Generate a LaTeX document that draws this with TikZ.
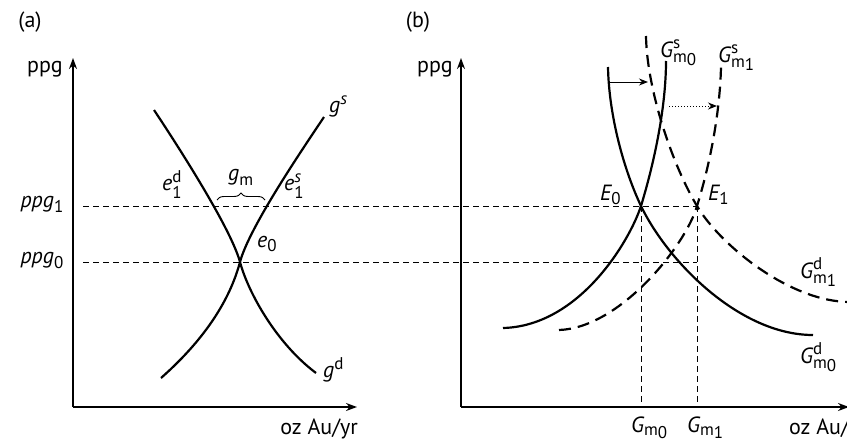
\documentclass[tikz,border=0pt]{standalone}
\usepackage{amsmath}
\usepackage{fontspec}
\setmainfont{PT Sans}
\DeclareMathSizes{22}{22}{17}{15}
\usetikzlibrary{arrows.meta,decorations.pathreplacing}
\newcommand{\sm}[1]{\text{m\raisebox{-0.35ex}{#1}}}
\begin{document}
\begin{tikzpicture}[x=1pt,y=-1pt,
  axis/.style={line width=1.6pt,-{Stealth[length=11pt,width=8pt]}},
  curve/.style={line width=2.2pt},
  dcurve/.style={line width=2.2pt,dash pattern=on 12pt off 7pt},
  guide/.style={line width=0.9pt,dash pattern=on 6pt off 4pt},
  shift arrow/.style={line width=1pt,-{Stealth[length=9pt,width=7pt]}},
  lbl/.style={font=\fontsize{22}{26}\selectfont,inner sep=0pt}]
\clip (0,0) rectangle (847,442);
% ---------- panel (a)
\coordinate (Oa) at (73,407);
\coordinate (Ya) at (73,58);
\coordinate (Xa) at (357,407);
\draw[axis] (Oa) -- (Ya);
\draw[axis] (Oa) -- (Xa);
% ---------- panel (b)
\coordinate (Ob) at (461,407);
\coordinate (Yb) at (461,58);
\coordinate (Xb) at (849,407);
\draw[axis] (Ob) -- (Yb);
\draw[axis] (Ob) -- (Xb);
% key points
\coordinate (P1) at (83,206);
\coordinate (P0) at (83,262);
\coordinate (e0p) at (240,262);
\coordinate (E0) at (641,206);
\coordinate (E1) at (697,206);
\coordinate (F1) at (697,262);
\coordinate (B0) at (641,407);
\coordinate (B1) at (697,407);
\draw[guide] (P1) -- (E1);
\draw[guide] (P0) -- (F1);
\draw[guide] (E0) -- (B0);
\draw[guide] (E1) -- (B1);
% curves (a)
\draw[curve] (154,110) .. controls (174,140) and (230.5,227) .. (e0p)
             .. controls (248,292) and (276,343) .. (316,373);
\draw[curve] (161,378) .. controls (212,333) and (232,292) .. (e0p)
             .. controls (249.3,227) and (304,147) .. (324,117);
% brace
\coordinate (BrL) at (217,200);
\coordinate (BrR) at (265,200);
\draw[line width=0.9pt,decorate,decoration={brace,amplitude=7pt}] (BrL) -- (BrR);
% curves (b)
\draw[curve] (608,67) .. controls (609,117) and (624.4,171) .. (E0)
             .. controls (668,262) and (740,335) .. (813,335);
\draw[curve] (503,328) .. controls (580,326) and (630,240) .. (E0)
             .. controls (655,160) and (666,106) .. (666,61);
\draw[dcurve] (646,36) .. controls (647,91) and (673,166) .. (E1)
             .. controls (720,245) and (790,302) .. (850,302);
\draw[dcurve] (559,330) .. controls (620,328) and (686,245) .. (E1)
             .. controls (711,161) and (720,110) .. (721,67);
% shift arrows
\coordinate (A1s) at (609,82);
\coordinate (A1e) at (648,82);
\coordinate (A2s) at (669,106);
\coordinate (A2e) at (717,106);
\draw[shift arrow] (A1s) -- (A1e);
\draw[shift arrow,dotted] (A2s) -- (A2e);
% labels (a)
\node[lbl] (la) at (30,22) {(a)};
\node[lbl,anchor=base east] (ppga) at (63,72) {ppg};
\node[lbl,anchor=base east] (ppg1) at (64,207) {$\textit{ppg}_{\text{1}}$};
\node[lbl,anchor=base east] (ppg0) at (64,263) {$\textit{ppg}_{\text{0}}$};
\node[lbl,anchor=base west] (gs) at (329,112) {$\textit{g}^{\textit{s}}$};
\node[lbl,anchor=base west] (gd) at (323,377) {$\textit{g}^{\text{d}}$};
\node[lbl,anchor=base west] (e1d) at (162,190) {$\textit{e}^{\text{d}}_{\text{1}}$};
\node[lbl,anchor=base west] (e1s) at (284,190) {$\textit{e}^{\textit{s}}_{\text{1}}$};
\node[lbl,anchor=base west] (gm) at (228,180) {$\textit{g}_{\text{m}}$};
\node[lbl,anchor=base west] (e0) at (257,247) {$\textit{e}_{\text{0}}$};
\node[lbl,anchor=base east] (oza) at (358,434) {oz Au/yr};
% labels (b)
\node[lbl] (lb) at (418,22) {(b)};
\node[lbl,anchor=base east] (ppgb) at (453,72) {ppg};
\node[lbl,anchor=base west] (Gs0) at (660,57) {$\textit{G}^{\text{s}}_{\sm{0}}$};
\node[lbl,anchor=base west] (Gs1) at (718,62) {$\textit{G}^{\text{s}}_{\sm{1}}$};
\node[lbl,anchor=base west] (lE0) at (600,200) {$\textit{E}_{\text{0}}$};
\node[lbl,anchor=base west] (lE1) at (708,200) {$\textit{E}_{\text{1}}$};
\node[lbl,anchor=base west] (Gd1) at (800,278) {$\textit{G}^{\text{d}}_{\sm{1}}$};
\node[lbl,anchor=base west] (Gd0) at (800,363) {$\textit{G}^{\text{d}}_{\sm{0}}$};
\node[lbl,anchor=base west] (Gm0) at (631,432) {$\textit{G}_{\sm{0}}$};
\node[lbl,anchor=base west] (Gm1) at (687,432) {$\textit{G}_{\sm{1}}$};
\node[lbl,anchor=base west] (ozb) at (789,434) {oz Au/yr};
\end{tikzpicture}
\end{document}
